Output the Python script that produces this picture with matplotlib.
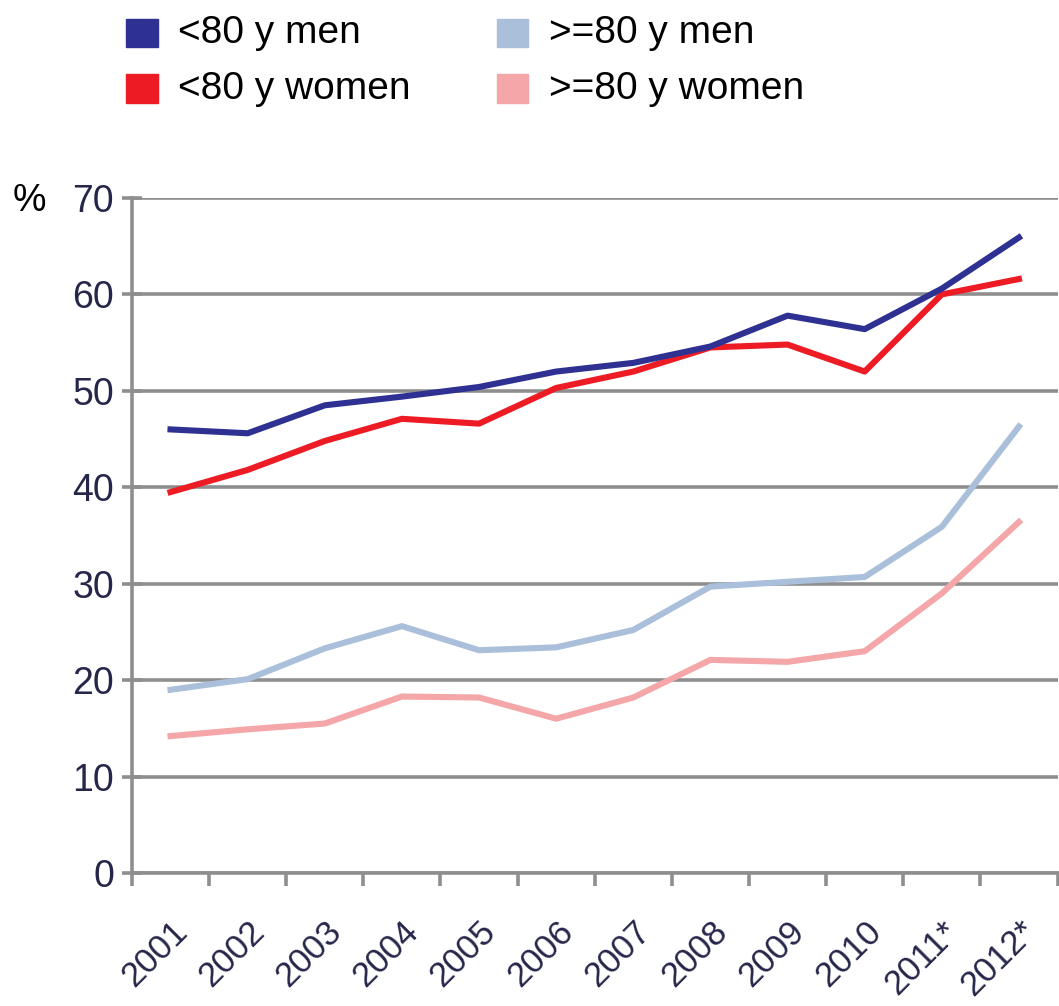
import matplotlib
matplotlib.use("Agg")
import matplotlib.pyplot as plt
from matplotlib.patches import Rectangle
import numpy as np

plt.rcParams['font.family'] = ['Liberation Sans Narrow', 'Liberation Sans', 'DejaVu Sans']

years = ["2001", "2002", "2003", "2004", "2005", "2006", "2007", "2008", "2009", "2010", "2011*", "2012*"]
men_u80 = [46.0, 45.6, 48.5, 49.4, 50.4, 52.0, 52.9, 54.6, 57.8, 56.4, 60.6, 65.9]
women_u80 = [39.5, 41.8, 44.8, 47.1, 46.6, 50.3, 52.0, 54.5, 54.8, 52.0, 60.0, 61.6]
men_o80 = [19.0, 20.1, 23.3, 25.6, 23.1, 23.4, 25.2, 29.7, 30.2, 30.7, 35.9, 46.3]
women_o80 = [14.2, 14.9, 15.5, 18.3, 18.2, 16.0, 18.2, 22.1, 21.9, 23.0, 29.0, 36.4]

series = [
    ("<80 y men", men_u80, "#2E3192"),
    ("<80 y women", women_u80, "#ED1C24"),
    (">=80 y men", men_o80, "#A9BFDA"),
    (">=80 y women", women_o80, "#F4A6A8"),
]

grid_c = "#8E8E8E"
tick_c = "#26264a"

fig = plt.figure(figsize=(10.59, 10.06), dpi=100)
ax = fig.add_axes([0.1246, 0.1322, 0.874, 0.671])

x = np.arange(len(years))
# light lines first so the dark ones sit on top
for name, vals, col in series[::-1]:
    ax.plot(x, vals, color=col, lw=4.4, solid_joinstyle='round', zorder=3)

ax.set_xlim(-0.5, len(years) - 0.5)
ax.set_ylim(0, 70)
ax.set_yticks(range(0, 71, 10))
ax.yaxis.grid(True, color=grid_c, lw=2.6)
ax.set_axisbelow(True)

for s in ["top", "right"]:
    ax.spines[s].set_visible(False)
for s in ["left", "bottom"]:
    ax.spines[s].set_color(grid_c)
    ax.spines[s].set_linewidth(2.6)

ax.set_xticks(np.arange(-0.5, len(years), 1.0))
ax.set_xticklabels([])
ax.set_xticks(x, minor=True)
ax.set_xticklabels(years, minor=True, rotation=45, ha='right', va='top',
                   rotation_mode='anchor', fontsize=25, color=tick_c)
ax.tick_params(axis='x', which='major', length=9, width=2.6, color=grid_c)
ax.tick_params(axis='x', which='minor', length=0, pad=30)
ax.tick_params(axis='y', direction='inout', length=14, width=2.6, color=grid_c,
               labelsize=27, labelcolor=tick_c, pad=6)

fig.text(0.012, 0.800, "%", fontsize=27, color="black", va='center', ha='left')

# legend
pos = [(0.119, 0.967), (0.119, 0.912), (0.469, 0.967), (0.469, 0.912)]
for (name, vals, col), (lx, ly) in zip(series, pos):
    fig.patches.append(Rectangle((lx, ly - 0.014), 0.03, 0.028, transform=fig.transFigure,
                                 color=col, figure=fig))
    fig.text(lx + 0.049, ly, name, fontsize=28, va='center', ha='left', color="black")

fig.savefig("out.png", dpi=100)
